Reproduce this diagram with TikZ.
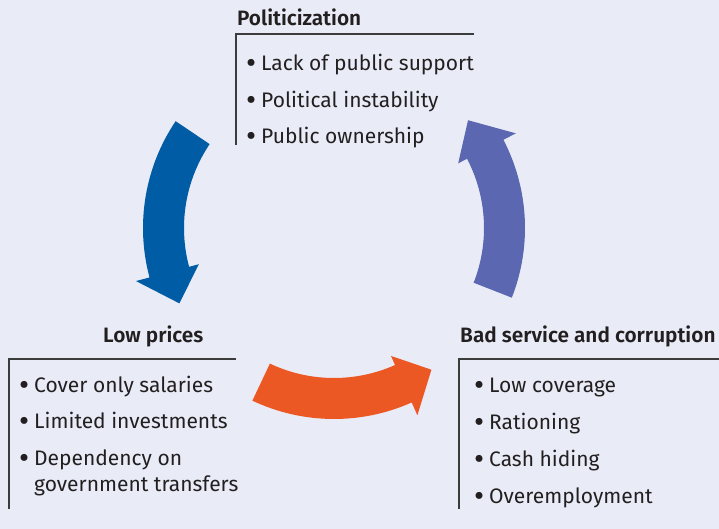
\documentclass[tikz,border=0pt]{standalone}
\usepackage{fontspec}
\setmainfont{Fira Sans}
\newfontfamily\headfont{Fira Sans SemiBold}

\definecolor{bgblue}{RGB}{233,236,247}
\definecolor{inkgray}{RGB}{35,31,32}
\definecolor{linegray}{RGB}{60,60,60}
\definecolor{cycblue}{RGB}{0,92,164}
\definecolor{cycpurple}{RGB}{91,103,176}
\definecolor{cycorange}{RGB}{236,88,36}

\newcommand{\itm}{\makebox[15pt][l]{\raisebox{-2.5pt}{\fontsize{31}{31}\selectfont\textbullet}}}
% curved arrow: tail angle, neck angle, tip angle, colour
\newcommand{\cyclearrow}[4]{%
  \fill[#4] (#1:191pt) arc[start angle=#1, end angle=#2, radius=191pt]
    -- (#2:205pt) -- (#3:172pt) -- (#2:140pt) -- (#2:150pt)
    arc[start angle=#2, end angle=#1, radius=150pt] -- cycle;}

\tikzset{
  heading/.style={anchor=base west, inner sep=0pt, text=inkgray,
    font=\fontsize{20.8}{24}\headfont},
  listitem/.style={anchor=base west, inner sep=0pt, text=inkgray,
    font=\fontsize{21}{26}\selectfont},
  bracket/.style={draw=linegray, line width=1.1pt}
}

\begin{document}
\begin{tikzpicture}[x=1pt,y=1pt]
	% background
	\fill[bgblue] (0,0) rectangle (719,529);
	\useasboundingbox (0,0) rectangle (719,529);

	% arrows
	\begin{scope}[shift={(334,301)}]
		\cyclearrow{146}{195}{206}{cycblue}
		\cyclearrow{-21.4}{27.5}{38.8}{cycpurple}
		\cyclearrow{244.7}{294}{304.5}{cycorange}
	\end{scope}

	% politicization
	\node[heading] (polhead) at (237,503) {Politicization};
	\draw[bracket] (474,495) -- (236,495) -- (236,384);
	\node[listitem] (pol1) at (246,458) {\itm Lack of public support};
	\node[listitem] (pol2) at (246,421) {\itm Political instability};
	\node[listitem] (pol3) at (246,385) {\itm Public ownership};

	% low prices
	\node[heading] (lowhead) at (103,186) {Low prices};
	\draw[bracket] (236,170) -- (9,170) -- (9,20);
	\node[listitem] (low1) at (19,136) {\itm Cover only salaries};
	\node[listitem] (low2) at (19,100) {\itm Limited investments};
	\node[listitem] (low3) at (19,63) {\itm Dependency on};
	\node[listitem] (low4) at (34,37) {government transfers};

	% bad service
	\node[heading] (badhead) at (460,186) {Bad service and corruption};
	\draw[bracket] (719,170) -- (459,170) -- (459,20);
	\node[listitem] (bad1) at (474,136) {\itm Low coverage};
	\node[listitem] (bad2) at (474,99) {\itm Rationing};
	\node[listitem] (bad3) at (474,62) {\itm Cash hiding};
	\node[listitem] (bad4) at (474,25) {\itm Overemployment};
\end{tikzpicture}
\end{document}
